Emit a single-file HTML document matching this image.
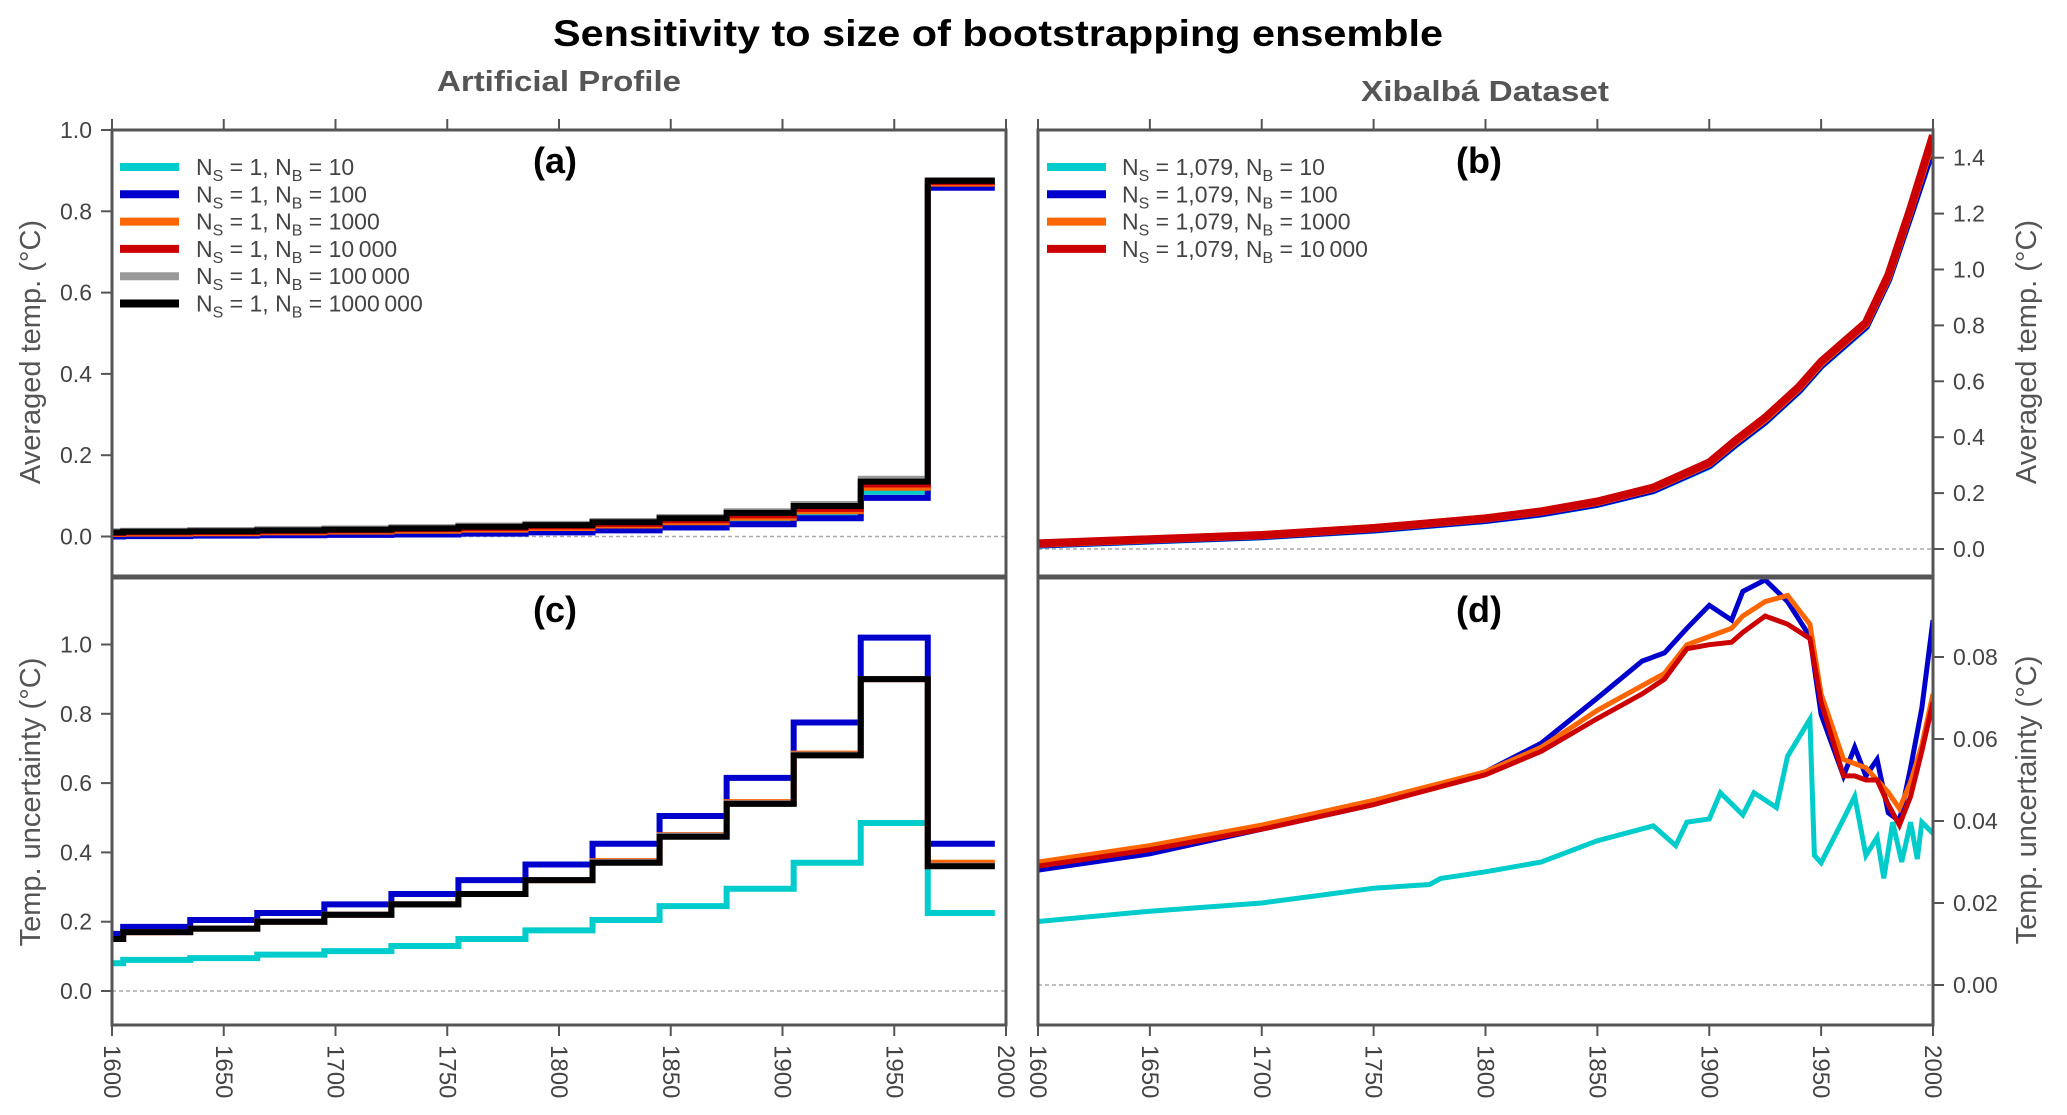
<!DOCTYPE html>
<html><head><meta charset="utf-8"><style>
html,body{margin:0;padding:0;background:#fff;}
svg{display:block;font-family:"Liberation Sans",sans-serif;}
</style></head><body>
<svg id="fig" width="2067" height="1115" viewBox="0 0 2067 1115" xmlns="http://www.w3.org/2000/svg">
<text x="998" y="46" text-anchor="middle" font-size="37" font-weight="bold" textLength="890" lengthAdjust="spacingAndGlyphs">Sensitivity to size of bootstrapping ensemble</text>
<text x="559" y="91" text-anchor="middle" font-size="29" font-weight="bold" fill="#555" textLength="244" lengthAdjust="spacingAndGlyphs">Artificial Profile</text>
<text x="1485" y="101" text-anchor="middle" font-size="29" font-weight="bold" fill="#555" textLength="248" lengthAdjust="spacingAndGlyphs">Xibalbá Dataset</text>
<g id="plots"></g>
</svg>
<script>
// ---- data ----
const stepBounds = [1600,1605,1635,1665,1695,1725,1755,1785,1815,1845,1875,1905,1935,1965,1995];
const aCyan   = [0.003,0.004,0.005,0.006,0.008,0.010,0.013,0.016,0.022,0.030,0.040,0.055,0.110,0.865];
const aBlue   = [0.000,0.001,0.002,0.003,0.004,0.005,0.007,0.010,0.015,0.022,0.030,0.045,0.095,0.858];
const aOrange = [0.006,0.007,0.008,0.010,0.012,0.014,0.017,0.021,0.027,0.035,0.046,0.062,0.120,0.868];
const aRed    = [0.008,0.010,0.011,0.013,0.015,0.018,0.021,0.025,0.031,0.040,0.052,0.068,0.128,0.872];
const aGray   = [0.013,0.014,0.016,0.018,0.020,0.023,0.027,0.031,0.038,0.048,0.062,0.080,0.142,0.877];
const aBlack  = [0.010,0.012,0.013,0.015,0.017,0.020,0.024,0.028,0.035,0.045,0.058,0.075,0.135,0.875];
const cCyan   = [0.080,0.090,0.095,0.105,0.115,0.130,0.150,0.175,0.205,0.245,0.295,0.370,0.485,0.225];
const cBlue   = [0.165,0.185,0.205,0.225,0.250,0.280,0.320,0.365,0.425,0.505,0.615,0.775,1.020,0.425];
const cOrange = [0.150,0.170,0.180,0.200,0.220,0.250,0.280,0.320,0.375,0.450,0.545,0.685,0.900,0.370];
const cRed    = [0.150,0.170,0.180,0.200,0.220,0.250,0.280,0.320,0.372,0.448,0.542,0.682,0.900,0.362];
const cGray   = [0.150,0.170,0.180,0.200,0.220,0.250,0.280,0.320,0.372,0.448,0.542,0.682,0.900,0.362];
const cBlack  = [0.150,0.170,0.180,0.200,0.220,0.250,0.280,0.320,0.370,0.445,0.540,0.680,0.900,0.360];

const bYears = [1600,1650,1700,1750,1800,1825,1850,1875,1900,1912,1925,1940,1950,1960,1970,1980,1990,2000];
const bRed   = [0.020,0.035,0.050,0.075,0.110,0.135,0.170,0.220,0.310,0.390,0.470,0.580,0.670,0.740,0.810,0.980,1.220,1.480];
const bOrange= [0.019,0.034,0.049,0.074,0.109,0.134,0.168,0.218,0.307,0.386,0.466,0.576,0.666,0.736,0.806,0.975,1.215,1.470];
const bBlue  = [0.016,0.031,0.046,0.070,0.104,0.128,0.162,0.211,0.300,0.378,0.458,0.568,0.658,0.728,0.798,0.966,1.200,1.440];
const bCyan  = [0.015,0.030,0.045,0.069,0.103,0.127,0.161,0.210,0.298,0.376,0.456,0.566,0.656,0.726,0.796,0.964,1.198,1.440];

const dYearsM = [1600,1650,1700,1750,1800,1825,1850,1870,1880,1890,1900,1910,1915,1925,1935,1945,1950,1960,1965,1970,1975,1980,1985,1990,1995,2000];
const dBlue   = [0.028,0.032,0.038,0.044,0.052,0.059,0.070,0.079,0.081,0.087,0.0926,0.089,0.096,0.0988,0.0935,0.085,0.066,0.051,0.058,0.051,0.055,0.042,0.040,0.053,0.0675,0.089];
const dOrange = [0.030,0.034,0.039,0.045,0.052,0.058,0.067,0.073,0.076,0.083,0.085,0.087,0.090,0.0935,0.095,0.088,0.071,0.055,0.054,0.053,0.050,0.047,0.043,0.0495,0.0585,0.071];
const dRed    = [0.029,0.033,0.038,0.044,0.0513,0.057,0.065,0.071,0.0746,0.082,0.0830,0.0836,0.086,0.090,0.088,0.0845,0.069,0.051,0.051,0.050,0.050,0.044,0.039,0.046,0.057,0.069];
const dYearsC = [1600,1650,1700,1725,1750,1775,1780,1800,1825,1850,1875,1885,1890,1900,1905,1915,1920,1930,1935,1945,1947,1950,1960,1965,1970,1975,1978,1982,1986,1990,1993,1995,2000];
const dCyan   = [0.0155,0.018,0.020,0.0218,0.0236,0.0245,0.026,0.0276,0.030,0.0352,0.0388,0.034,0.0397,0.0405,0.0469,0.0415,0.0469,0.0433,0.0558,0.0648,0.0316,0.0298,0.0405,0.046,0.0316,0.036,0.026,0.0397,0.030,0.0397,0.0307,0.0397,0.037];

const yearTicks = [1600,1650,1700,1750,1800,1850,1900,1950,2000];
const aTicks = ["0.0","0.2","0.4","0.6","0.8","1.0"];
const cTicks = ["0.0","0.2","0.4","0.6","0.8","1.0"];
const bTicks = ["0.0","0.2","0.4","0.6","0.8","1.0","1.2","1.4"];
const dTicks = ["0.00","0.02","0.04","0.06","0.08"];

// ---- layout ----
const NS="http://www.w3.org/2000/svg";
const root=document.getElementById('plots');
const L={x0:112,x1:1006}, R={x0:1038,x1:1933};
const T=130, M=577, B=1025;
const xL=y=>L.x0+(y-1600)/400*(L.x1-L.x0);
const xR=y=>R.x0+(y-1600)/400*(R.x1-R.x0);
const yA=v=>536.5-v*406.5;
const yC=v=>991-v*346.5;
const yB=v=>549-v*279.5;
const yD=v=>985-v*4100;
const COL={cyan:'#00CCCC',blue:'#0000CC',orange:'#FF6600',red:'#CC0000',gray:'#999999',black:'#000000'};

function mk(tag,attrs,parent){const e=document.createElementNS(NS,tag);for(const k in attrs)e.setAttribute(k,attrs[k]);(parent||root).appendChild(e);return e;}

function stepPath(vals,xf,yf){let d='M'+xf(stepBounds[0])+' '+yf(vals[0]);for(let i=0;i<vals.length;i++){if(i>0)d+=' V'+yf(vals[i]);d+=' H'+xf(stepBounds[i+1]);}return d;}
function linePath(xs,vals,xf,yf){return xs.map((x,i)=>(i?'L':'M')+xf(x).toFixed(1)+' '+yf(vals[i]).toFixed(1)).join(' ');}

function panel(name,px,y0,y1,yf,ticks,side,xf,clipId){
  const g=mk('g',{});
  
  
  const cp=mk('clipPath',{id:clipId},g);mk('rect',{x:px.x0,y:y0,width:px.x1-px.x0,height:y1-y0},cp);
  const z=mk('line',{x1:px.x0,x2:px.x1,y1:yf(0),y2:yf(0),stroke:'#aaa','stroke-width':1.5,'stroke-dasharray':'4 3'},g);
  
  
  ticks.forEach(t=>{const v=parseFloat(t),y=yf(v);
    const tx = side==='left'?px.x0:px.x1;
    const dir= side==='left'?-1:1;
    const tl=mk('line',{x1:tx,x2:tx+dir*11,y1:y,y2:y,stroke:'#555','stroke-width':2},g);
    
    
    const lb=mk('text',{x:tx+dir*20,y:y+8,'font-size':23,fill:'#444','text-anchor':side==='left'?'end':'start'},g);
    
    
    lb.textContent=t;});
  return g;
}
function series(g,d,color,w,clipId,name){const p=mk('path',{d:d,fill:'none',stroke:color,'stroke-width':w,'stroke-linejoin':'miter','clip-path':'url(#'+clipId+')'},g);
  
  }

// panel a
let ga=panel('panel-a',L,T,M,yA,aTicks,'left',xL,'ca');
[[aCyan,'cyan'],[aBlue,'blue'],[aOrange,'orange'],[aRed,'red'],[aGray,'gray'],[aBlack,'black']].forEach(([v,c])=>series(ga,stepPath(v,xL,yA),COL[c],6,'ca','series-a-'+c));
// panel c
let gc=panel('panel-c',L,M,B,yC,cTicks,'left',xL,'cc');
[[cCyan,'cyan'],[cBlue,'blue'],[cOrange,'orange'],[cRed,'red'],[cGray,'gray'],[cBlack,'black']].forEach(([v,c])=>series(gc,stepPath(v,xL,yC),COL[c],6,'cc','series-c-'+c));
// panel b
let gb=panel('panel-b',R,T,M,yB,bTicks,'right',xR,'cb');
[[bCyan,'cyan'],[bBlue,'blue'],[bOrange,'orange'],[bRed,'red']].forEach(([v,c])=>series(gb,linePath(bYears,v,xR,yB),COL[c],8,'cb','series-b-'+c));
// panel d
let gd=panel('panel-d',R,M,B,yD,dTicks,'right',xR,'cd');
series(gd,linePath(dYearsC,dCyan,xR,yD),COL.cyan,5,'cd','series-d-cyan');
series(gd,linePath(dYearsM,dBlue,xR,yD),COL.blue,5,'cd','series-d-blue');
series(gd,linePath(dYearsM,dOrange,xR,yD),COL.orange,5,'cd','series-d-orange');
series(gd,linePath(dYearsM,dRed,xR,yD),COL.red,5,'cd','series-d-red');

// frames
[[L,T,M],[L,M,B],[R,T,M],[R,M,B]].forEach(([p,a,b])=>{const r=mk('rect',{x:p.x0,y:a,width:p.x1-p.x0,height:b-a,fill:'none',stroke:'#555','stroke-width':3});
  
  });
[L,R].forEach(p=>{const r=mk('line',{x1:p.x0,x2:p.x1,y1:M,y2:M,stroke:'#555','stroke-width':5});
  
  });

// x ticks
[[L,xL],[R,xR]].forEach(([p,xf])=>{yearTicks.forEach(yr=>{const x=xf(yr);
  const t1=mk('line',{x1:x,x2:x,y1:T,y2:T-11,stroke:'#555','stroke-width':2});
  
  
  const t2=mk('line',{x1:x,x2:x,y1:B,y2:B+11,stroke:'#555','stroke-width':2});
  
  
  const lb=mk('text',{x:0,y:0,'font-size':24,fill:'#444',transform:'translate('+(x-8)+',1045) rotate(90)'});
  
  
  lb.textContent=yr;});});

// axis titles
function vtitle(txt,x,y,rot,name){const t=mk('text',{x:0,y:0,'font-size':29,fill:'#555','text-anchor':'middle',transform:'translate('+x+','+y+') rotate('+rot+')'});
  
  
  t.textContent=txt;}
vtitle('Averaged temp. (°C)',40,352,-90,'y-axis-title-a');
vtitle('Temp. uncertainty (°C)',40,802,-90,'y-axis-title-c');
vtitle('Averaged temp. (°C)',2036,352,-90,'y-axis-title-b');
vtitle('Temp. uncertainty (°C)',2036,800,-90,'y-axis-title-d');

// panel labels
[['(a)',555,173],['(b)',1479,173],['(c)',555,622],['(d)',1479,622]].forEach(([t,x,y])=>{const e=mk('text',{x:x,y:y,'font-size':36,'font-weight':'bold','text-anchor':'middle'});
  
  
  e.textContent=t;});

// legends
function legend(items,lx,tx,y0,ns,name){const g=mk('g',{});
  
  
  items.forEach(([c,nb],i)=>{const y=y0+i*27.3;
    const ln=mk('line',{x1:lx,x2:lx+59,y1:y,y2:y,stroke:COL[c],'stroke-width':8},g);
    
    
    const t=mk('text',{x:tx,y:y+8,'font-size':23,fill:'#444'},g);
    
    
    t.innerHTML='N<tspan font-size="16" dy="6">S</tspan><tspan dy="-6"> = '+ns+', N</tspan><tspan font-size="16" dy="6">B</tspan><tspan dy="-6"> = '+nb+'</tspan>';});}
legend([['cyan','10'],['blue','100'],['orange','1000'],['red','10\u2009000'],['gray','100\u2009000'],['black','1000\u2009000']],120,196,167,'1','legend-a');
legend([['cyan','10'],['blue','100'],['orange','1000'],['red','10\u2009000']],1047,1122,167,'1,079','legend-b');
</script>
</body></html>
